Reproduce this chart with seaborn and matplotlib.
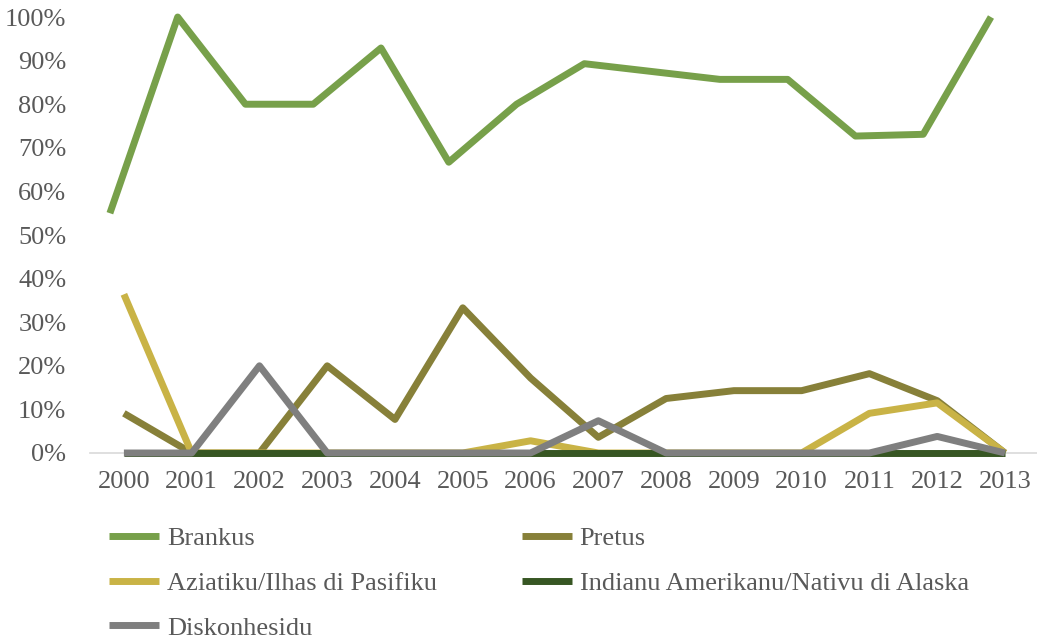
import pandas as pd
import seaborn as sns
import matplotlib.pyplot as plt
import matplotlib.transforms as mtransforms
from matplotlib.ticker import PercentFormatter

years = [str(y) for y in range(2000, 2014)]

brankus = [0.55, 1.00, 0.80, 0.80, 0.929, 0.667, 0.80, 0.893, 0.875, 0.857, 0.857, 0.727, 0.731, 1.00]
pretus = [0.091, 0.0, 0.0, 0.20, 0.077, 0.333, 0.172, 0.036, 0.125, 0.143, 0.143, 0.182, 0.12, 0.0]
aziatiku = [0.364, 0.0, 0.0, 0.0, 0.0, 0.0, 0.028, 0.0, 0.0, 0.0, 0.0, 0.091, 0.115, 0.0]
indianu = [0.0] * 14
diskonhesidu = [0.0, 0.0, 0.20, 0.0, 0.0, 0.0, 0.0, 0.074, 0.0, 0.0, 0.0, 0.0, 0.038, 0.0]

names = ["Brankus", "Pretus", "Aziatiku/Ilhas di Pasifiku",
         "Indianu Amerikanu/Nativu di Alaska", "Diskonhesidu"]
series = [brankus, pretus, aziatiku, indianu, diskonhesidu]
colors = ["#77A04A", "#878039", "#C9B346", "#375623", "#7F7F7F"]

# long table for seaborn
rows = []
for name, vals in zip(names, series):
    for yr, v in zip(years, vals):
        rows.append({"year": yr, "share": v, "group": name})
df = pd.DataFrame(rows)

sns.set_style("white")
plt.rcParams['font.family'] = ['Liberation Serif', 'DejaVu Serif']

fig = plt.figure(figsize=(10.37, 6.43), dpi=100)
ax = fig.add_axes([0.0868, 0.2955, 0.915, 0.678])

sns.lineplot(data=df, x="year", y="share", hue="group", hue_order=names,
             palette=dict(zip(names, colors)), linewidth=5, ax=ax,
             legend=False, clip_on=False)
for ln in ax.get_lines():
    ln.set_solid_capstyle("butt")

# the green series sits a little left of the others in the original
green = ax.get_lines()[0]
green.set_transform(green.get_transform() +
                    mtransforms.ScaledTranslation(-14 / 100, 0, fig.dpi_scale_trans))

ax.set_xlim(-0.5, 13.5)
ax.set_ylim(0, 1)
ax.set_yticks([i / 10 for i in range(11)])
ax.yaxis.set_major_formatter(PercentFormatter(1.0, decimals=0))
ax.set_xlabel("")
ax.set_ylabel("")
ax.tick_params(axis="both", length=0, labelsize=19, labelcolor="#595959")
ax.tick_params(axis="x", pad=13)
ax.tick_params(axis="y", pad=17)
for s in ["top", "right", "left"]:
    ax.spines[s].set_visible(False)
ax.spines["bottom"].set_color("#D9D9D9")
ax.spines["bottom"].set_linewidth(1.2)
ax.spines["bottom"].set_zorder(0)

# legend fills row by row in the original
order = [0, 2, 4, 1, 3]
handles = [plt.Line2D([], [], color=colors[i], linewidth=5, solid_capstyle="butt")
           for i in order]
labels = [names[i] for i in order]
fig.legend(handles, labels, ncol=2, loc="upper left",
           bbox_to_anchor=(0.0925, 0.201), frameon=False, borderpad=0,
           fontsize=19, labelcolor="#595959", handlelength=1.9,
           handletextpad=0.3, columnspacing=3.2, labelspacing=0.8)

fig.savefig("out.png", dpi=100)
